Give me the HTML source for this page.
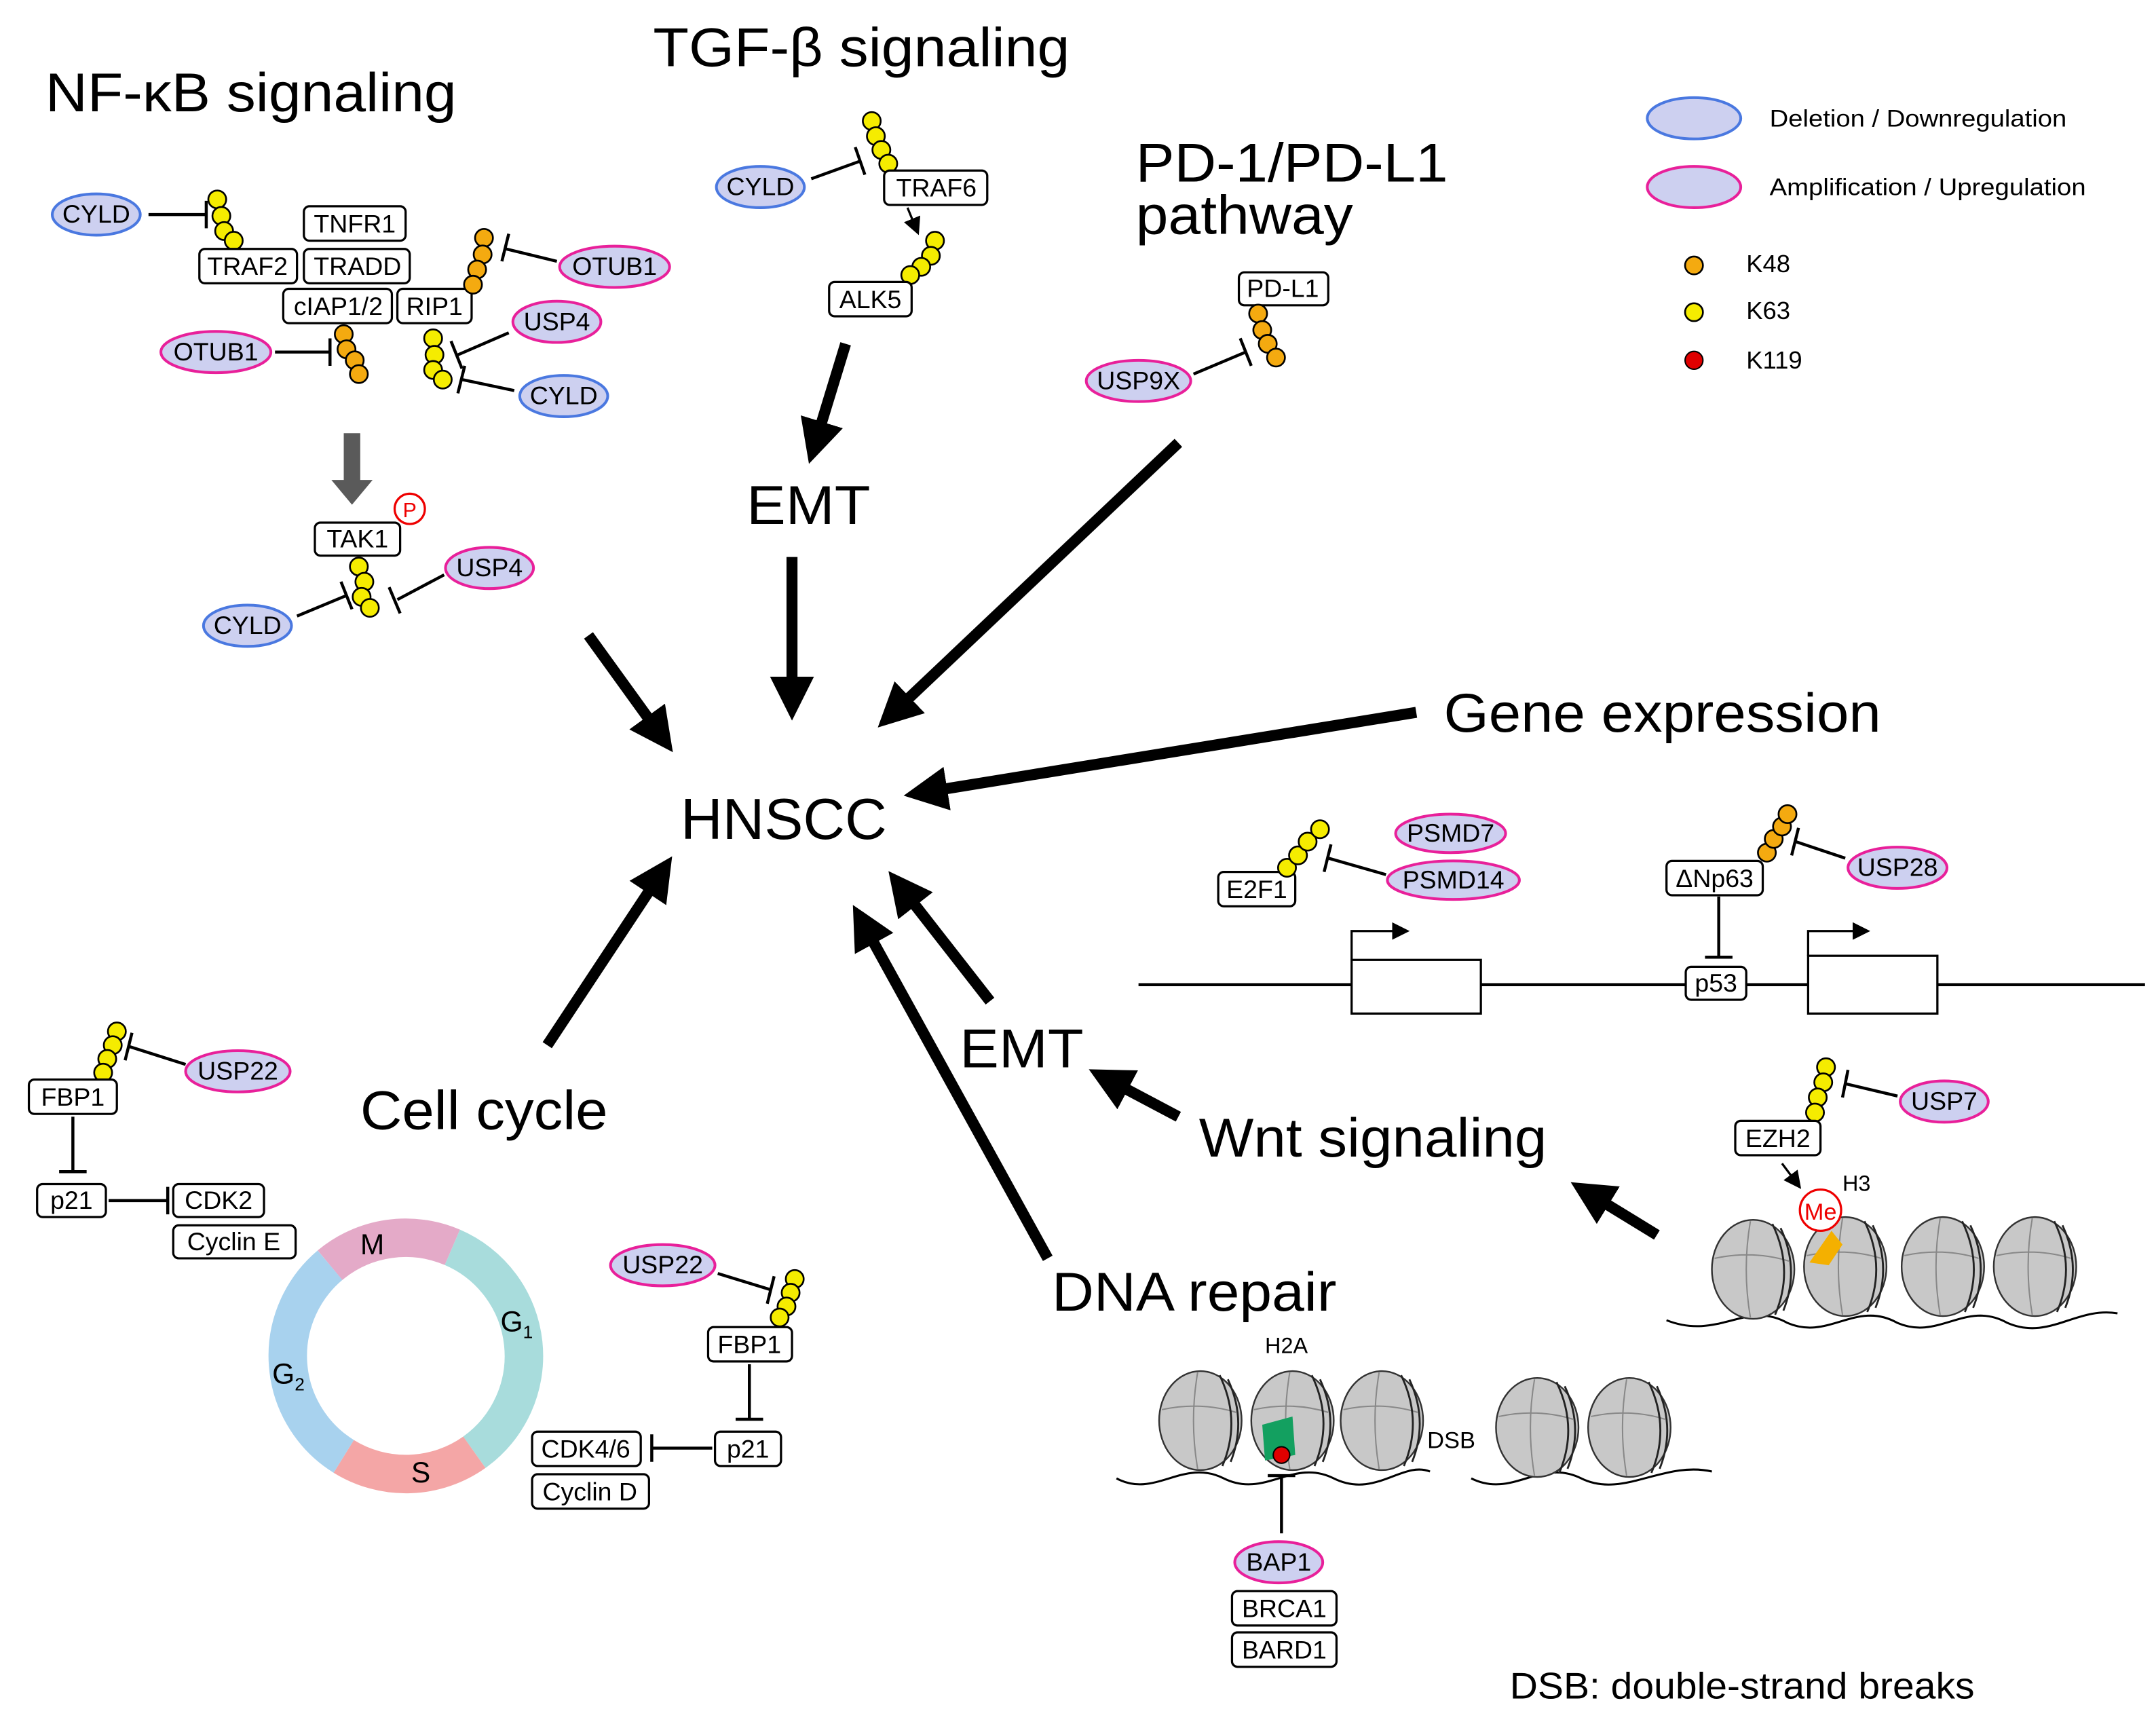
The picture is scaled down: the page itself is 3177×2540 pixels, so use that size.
<!DOCTYPE html>
<html><head><meta charset="utf-8"><style>html,body{margin:0;padding:0;background:#fff}svg{display:block}</style></head>
<body>
<svg width="3177" height="2540" viewBox="0 0 1568 1253.6" xmlns="http://www.w3.org/2000/svg" font-family="Liberation Sans, sans-serif">
<defs>
<marker id="ah" markerWidth="4" markerHeight="4" refX="2" refY="2" orient="auto" markerUnits="strokeWidth"><path d="M0,0 L4,2 L0,4 Z" fill="#000"/></marker>
<marker id="sa" markerWidth="8" markerHeight="8" refX="6" refY="4" orient="auto" markerUnits="strokeWidth"><path d="M0,0 L8,4 L0,8 Z" fill="#000"/></marker>
<g id="nuc">
<ellipse cx="0" cy="0" rx="30" ry="36" fill="#c8c8c8" stroke="#333" stroke-width="1.2"/>
<path d="M-28,-8 Q0,-14 26,-6 M-2,-35 Q-8,0 -2,35" stroke="#888" stroke-width="1" fill="none"/>
<path d="M14,-33 Q30,0 16,33 M20,-30 Q34,0 22,30" stroke="#222" stroke-width="1.4" fill="none"/>
</g>
<style>
.b{fill:#fff;stroke:#000;stroke-width:1.6}
.t{font-size:18.5px;text-anchor:middle}
.eb{fill:#cdd0f0;stroke:#4a78e0;stroke-width:2}
.ep{fill:#cdd0f0;stroke:#e8209a;stroke-width:2}
.y{fill:#f5ec00;stroke:#000;stroke-width:1.3}
.o{fill:#f4aa10;stroke:#000;stroke-width:1.3}
.l{stroke:#000;stroke-width:2.2;fill:none}
.A{stroke:#000;stroke-width:8;fill:none;marker-end:url(#ah)}
.T{font-size:40px}
</style>
</defs>

<!-- titles -->
<text x="33" y="81" class="T" textLength="299" lengthAdjust="spacingAndGlyphs">NF-κB signaling</text>
<text x="475" y="48" class="T" textLength="303" lengthAdjust="spacingAndGlyphs">TGF-β signaling</text>
<text x="826" y="132" class="T" textLength="227" lengthAdjust="spacingAndGlyphs">PD-1/PD-L1</text>
<text x="826" y="170" class="T" textLength="158" lengthAdjust="spacingAndGlyphs">pathway</text>
<text x="495" y="610" style="font-size:42px" textLength="150" lengthAdjust="spacingAndGlyphs">HNSCC</text>
<text x="543" y="381" class="T" textLength="90" lengthAdjust="spacingAndGlyphs">EMT</text>
<text x="1050" y="532" class="T" textLength="318" lengthAdjust="spacingAndGlyphs">Gene expression</text>
<text x="262" y="821" class="T" textLength="180" lengthAdjust="spacingAndGlyphs">Cell cycle</text>
<text x="698" y="776" class="T" textLength="90" lengthAdjust="spacingAndGlyphs">EMT</text>
<text x="872" y="841" class="T" textLength="253" lengthAdjust="spacingAndGlyphs">Wnt signaling</text>
<text x="765" y="953" class="T" textLength="207" lengthAdjust="spacingAndGlyphs">DNA repair</text>
<text x="1098" y="1235" style="font-size:27px" textLength="338" lengthAdjust="spacingAndGlyphs">DSB: double-strand breaks</text>

<!-- big arrows -->
<line x1="428" y1="462" x2="480" y2="534" class="A"/>
<line x1="615" y1="250" x2="593" y2="322" class="A"/>
<line x1="576" y1="405" x2="576" y2="508" class="A"/>
<line x1="857" y1="322" x2="650" y2="518" class="A"/>
<line x1="1030" y1="518" x2="673" y2="576" class="A"/>
<line x1="398" y1="760" x2="480" y2="636" class="A"/>
<line x1="720" y1="728" x2="656" y2="646" class="A"/>
<line x1="762" y1="915" x2="628" y2="672" class="A"/>
<line x1="857" y1="812" x2="806" y2="785" class="A"/>
<line x1="1205" y1="898" x2="1156" y2="868" class="A"/>

<!-- legend -->
<ellipse cx="1232" cy="86" rx="34" ry="15" class="eb"/><text x="1287" y="92" style="font-size:17.5px" textLength="216" lengthAdjust="spacingAndGlyphs">Deletion / Downregulation</text>
<ellipse cx="1232" cy="136" rx="34" ry="15" class="ep"/><text x="1287" y="142" style="font-size:17.5px" textLength="230" lengthAdjust="spacingAndGlyphs">Amplification / Upregulation</text>
<circle cx="1232" cy="193" r="6.5" class="o"/><text x="1270" y="198" style="font-size:18px">K48</text>
<circle cx="1232" cy="227" r="6.5" class="y"/><text x="1270" y="232" style="font-size:18px">K63</text>
<circle cx="1232" cy="262" r="6.5" fill="#e00000" stroke="#000" stroke-width="1"/><text x="1270" y="268" style="font-size:18px">K119</text>

<!-- NF-kB -->
<ellipse cx="70" cy="156" rx="32" ry="15" class="eb"/><text x="70" y="162" class="t">CYLD</text>
<path d="M108,156 H150 M150,146 V166" class="l"/>
<circle cx="158" cy="145" r="6.5" class="y"/><circle cx="161" cy="157" r="6.5" class="y"/><circle cx="163" cy="168" r="6.5" class="y"/><circle cx="170" cy="175" r="6.5" class="y"/>
<rect x="221" y="150" width="74" height="25" rx="4" class="b"/><text x="258" y="169" class="t">TNFR1</text>
<rect x="145" y="181" width="71" height="25" rx="4" class="b"/><text x="180" y="200" class="t">TRAF2</text>
<rect x="221" y="181" width="77" height="25" rx="4" class="b"/><text x="260" y="200" class="t">TRADD</text>
<rect x="206" y="210" width="79" height="25" rx="4" class="b"/><text x="246" y="229" class="t">cIAP1/2</text>
<rect x="289" y="210" width="54" height="25" rx="4" class="b"/><text x="316" y="229" class="t">RIP1</text>
<circle cx="352" cy="173" r="6.5" class="o"/><circle cx="351" cy="185" r="6.5" class="o"/><circle cx="347" cy="196" r="6.5" class="o"/><circle cx="344" cy="207" r="6.5" class="o"/>
<ellipse cx="447" cy="194" rx="40" ry="15" class="ep"/><text x="447" y="200" class="t">OTUB1</text>
<path d="M405,190 L368,181 M370,170 L365,190" class="l"/>
<ellipse cx="157" cy="256" rx="40" ry="15" class="ep"/><text x="157" y="262" class="t">OTUB1</text>
<path d="M200,256 H240 M240,246 V266" class="l"/>
<circle cx="250" cy="243" r="6.5" class="o"/><circle cx="252" cy="254" r="6.5" class="o"/><circle cx="258" cy="262" r="6.5" class="o"/><circle cx="261" cy="272" r="6.5" class="o"/>
<circle cx="315" cy="246" r="6.5" class="y"/><circle cx="316" cy="258" r="6.5" class="y"/><circle cx="315" cy="269" r="6.5" class="y"/><circle cx="322" cy="276" r="6.5" class="y"/>
<ellipse cx="405" cy="234" rx="32" ry="15" class="ep"/><text x="405" y="240" class="t">USP4</text>
<path d="M370,242 L333,258 M328,248 L336,268" class="l"/>
<ellipse cx="410" cy="288" rx="32" ry="15" class="eb"/><text x="410" y="294" class="t">CYLD</text>
<path d="M374,284 L336,276 M338,266 L333,286" class="l"/>
<path d="M250,315 H262 V349 H271 L256,367 L241,349 H250 Z" fill="#5a5a5a"/>
<rect x="229" y="380" width="62" height="24" rx="4" class="b"/><text x="260" y="398" class="t">TAK1</text>
<circle cx="298" cy="370" r="11" fill="#fff" stroke="#e00" stroke-width="1.6"/><text x="298" y="376" class="t" fill="#e00" style="font-size:15px">P</text>
<circle cx="261" cy="412" r="6.5" class="y"/><circle cx="265" cy="423" r="6.5" class="y"/><circle cx="263" cy="434" r="6.5" class="y"/><circle cx="269" cy="442" r="6.5" class="y"/>
<ellipse cx="356" cy="413" rx="32" ry="15" class="ep"/><text x="356" y="419" class="t">USP4</text>
<path d="M323,418 L289,436 M283,427 L291,446" class="l"/>
<ellipse cx="180" cy="455" rx="32" ry="15" class="eb"/><text x="180" y="461" class="t">CYLD</text>
<path d="M216,448 L252,433 M248,423 L256,443" class="l"/>

<!-- TGF -->
<ellipse cx="553" cy="136" rx="32" ry="15" class="eb"/><text x="553" y="142" class="t">CYLD</text>
<path d="M590,130 L626,117 M622,107 L629,127" class="l"/>
<circle cx="634" cy="88" r="6.5" class="y"/><circle cx="637" cy="99" r="6.5" class="y"/><circle cx="641" cy="109" r="6.5" class="y"/><circle cx="646" cy="119" r="6.5" class="y"/>
<rect x="643" y="124" width="75" height="25" rx="4" class="b"/><text x="681" y="143" class="t">TRAF6</text>
<line x1="660" y1="151" x2="667" y2="168" class="l" style="stroke-width:1.6" marker-end="url(#sa)"/>
<circle cx="680" cy="175" r="6.5" class="y"/><circle cx="677" cy="186" r="6.5" class="y"/><circle cx="670" cy="194" r="6.5" class="y"/><circle cx="662" cy="200" r="6.5" class="y"/>
<rect x="603" y="205" width="60" height="25" rx="4" class="b"/><text x="633" y="224" class="t">ALK5</text>

<!-- PD-L1 -->
<rect x="901" y="198" width="65" height="24" rx="4" class="b"/><text x="933" y="216" class="t">PD-L1</text>
<circle cx="915" cy="228" r="6.5" class="o"/><circle cx="918" cy="240" r="6.5" class="o"/><circle cx="922" cy="250" r="6.5" class="o"/><circle cx="928" cy="260" r="6.5" class="o"/>
<ellipse cx="828" cy="277" rx="38" ry="15" class="ep"/><text x="828" y="283" class="t">USP9X</text>
<path d="M868,272 L906,256 M902,246 L910,266" class="l"/>

<!-- Gene expression -->
<line x1="828" y1="716" x2="1560" y2="716" class="l"/>
<rect x="983" y="698" width="94" height="39" class="b"/>
<rect x="1315" y="695" width="94" height="42" class="b"/>
<path d="M983,698 V677 H1022" class="l" style="stroke-width:1.6" marker-end="url(#sa)"/>
<path d="M1315,695 V677 H1357" class="l" style="stroke-width:1.6" marker-end="url(#sa)"/>
<rect x="886" y="634" width="56" height="25" rx="4" class="b"/><text x="914" y="653" class="t">E2F1</text>
<circle cx="936" cy="631" r="6.5" class="y"/><circle cx="944" cy="622" r="6.5" class="y"/><circle cx="951" cy="612" r="6.5" class="y"/><circle cx="960" cy="603" r="6.5" class="y"/>
<ellipse cx="1055" cy="606" rx="40" ry="14" class="ep"/><text x="1055" y="612" class="t">PSMD7</text>
<ellipse cx="1057" cy="640" rx="48" ry="14" class="ep"/><text x="1057" y="646" class="t">PSMD14</text>
<path d="M1008,636 L966,624 M968,614 L963,634" class="l"/>
<rect x="1212" y="626" width="70" height="25" rx="4" class="b"/><text x="1247" y="645" class="t">ΔNp63</text>
<circle cx="1285" cy="620" r="6.5" class="o"/><circle cx="1290" cy="610" r="6.5" class="o"/><circle cx="1296" cy="601" r="6.5" class="o"/><circle cx="1300" cy="592" r="6.5" class="o"/>
<ellipse cx="1380" cy="631" rx="36" ry="15" class="ep"/><text x="1380" y="637" class="t">USP28</text>
<path d="M1342,624 L1306,612 M1308,602 L1303,622" class="l"/>
<path d="M1250,652 V696 M1240,696 H1260" class="l"/>
<rect x="1226" y="703" width="44" height="24" rx="4" class="b"/><text x="1248" y="721" class="t">p53</text>

<!-- Wnt / EZH2 -->
<circle cx="1328" cy="776" r="6.5" class="y"/><circle cx="1326" cy="787" r="6.5" class="y"/><circle cx="1322" cy="798" r="6.5" class="y"/><circle cx="1320" cy="809" r="6.5" class="y"/>
<rect x="1262" y="815" width="62" height="25" rx="4" class="b"/><text x="1293" y="834" class="t">EZH2</text>
<ellipse cx="1414" cy="801" rx="32" ry="15" class="ep"/><text x="1414" y="807" class="t">USP7</text>
<path d="M1380,797 L1342,788 M1344,778 L1340,798" class="l"/>
<line x1="1296" y1="846" x2="1308" y2="862" class="l" style="stroke-width:1.6" marker-end="url(#sa)"/>
<text x="1340" y="866" style="font-size:16px">H3</text>
<path d="M1212,960 C1250,975 1270,945 1300,962 C1330,975 1350,945 1380,962 C1410,975 1430,945 1460,962 C1490,975 1510,950 1540,955" class="l" style="stroke-width:1.5"/>
<use href="#nuc" x="1275" y="923"/><use href="#nuc" x="1342" y="921"/><use href="#nuc" x="1413" y="921"/><use href="#nuc" x="1480" y="921"/>
<path d="M1316,918 L1332,895 L1340,905 L1330,920 Z" fill="#f4b000"/>
<circle cx="1324" cy="880" r="15" fill="#fff" stroke="#e00" stroke-width="1.6"/><text x="1324" y="887" class="t" fill="#e00" style="font-size:17px">Me</text>

<!-- DNA repair -->
<path d="M812,1075 C840,1090 860,1060 890,1075 C920,1090 940,1060 970,1075 C1000,1090 1020,1062 1040,1070" class="l" style="stroke-width:1.5"/>
<path d="M1070,1075 C1100,1090 1120,1060 1150,1075 C1180,1090 1210,1062 1245,1070" class="l" style="stroke-width:1.5"/>
<use href="#nuc" x="873" y="1033"/><use href="#nuc" x="940" y="1033"/><use href="#nuc" x="1005" y="1033"/><use href="#nuc" x="1118" y="1038"/><use href="#nuc" x="1185" y="1038"/>
<path d="M918,1036 L940,1030 L942,1058 L920,1062 Z" fill="#13a060"/>
<circle cx="932" cy="1058" r="6" fill="#e00000" stroke="#000" stroke-width="1"/>
<text x="920" y="984" style="font-size:16px">H2A</text>
<text x="1038" y="1053" style="font-size:17px">DSB</text>
<path d="M932,1115 V1073 M922,1073 H942" class="l"/>
<ellipse cx="930" cy="1136" rx="32" ry="15" class="ep"/><text x="930" y="1142" class="t">BAP1</text>
<rect x="896" y="1157" width="76" height="25" rx="4" class="b"/><text x="934" y="1176" class="t">BRCA1</text>
<rect x="896" y="1187" width="76" height="25" rx="4" class="b"/><text x="934" y="1206" class="t">BARD1</text>

<!-- Cell cycle left -->
<circle cx="85" cy="750" r="6.5" class="y"/><circle cx="82" cy="760" r="6.5" class="y"/><circle cx="78" cy="770" r="6.5" class="y"/><circle cx="75" cy="780" r="6.5" class="y"/>
<rect x="21" y="785" width="64" height="25" rx="4" class="b"/><text x="53" y="804" class="t">FBP1</text>
<ellipse cx="173" cy="779" rx="38" ry="15" class="ep"/><text x="173" y="785" class="t">USP22</text>
<path d="M135,774 L94,761 M96,751 L91,771" class="l"/>
<path d="M53,812 V852 M43,852 H63" class="l"/>
<rect x="27" y="861" width="50" height="24" rx="4" class="b"/><text x="52" y="879" class="t">p21</text>
<path d="M79,873 H122 M122,863 V883" class="l"/>
<rect x="126" y="861" width="66" height="24" rx="4" class="b"/><text x="159" y="879" class="t">CDK2</text>
<rect x="126" y="891" width="89" height="24" rx="4" class="b"/><text x="170" y="909" class="t">Cyclin E</text>

<!-- ring -->
<g transform="translate(295,986)" fill="none" stroke-width="28">
<path d="M-55,-66 A86,86 0 0 1 34,-79" stroke="#e4aac8"/>
<path d="M34,-79 A86,86 0 0 1 50,70" stroke="#a8dcdc"/>
<path d="M50,70 A86,86 0 0 1 -45,73" stroke="#f4a6a6"/>
<path d="M-45,73 A86,86 0 0 1 -55,-66" stroke="#a8d2ee"/>
</g>
<text x="262" y="912" style="font-size:21px">M</text>
<text x="364" y="968" style="font-size:21px">G<tspan font-size="13" dy="5">1</tspan></text>
<text x="299" y="1078" style="font-size:21px">S</text>
<text x="198" y="1006" style="font-size:21px">G<tspan font-size="13" dy="5">2</tspan></text>

<!-- Cell cycle right -->
<ellipse cx="482" cy="920" rx="38" ry="15" class="ep"/><text x="482" y="926" class="t">USP22</text>
<path d="M522,926 L561,938 M563,928 L558,948" class="l"/>
<circle cx="578" cy="930" r="6.5" class="y"/><circle cx="575" cy="940" r="6.5" class="y"/><circle cx="572" cy="950" r="6.5" class="y"/><circle cx="567" cy="958" r="6.5" class="y"/>
<rect x="515" y="965" width="61" height="25" rx="4" class="b"/><text x="545" y="984" class="t">FBP1</text>
<path d="M545,992 V1032 M535,1032 H555" class="l"/>
<rect x="520" y="1041" width="48" height="25" rx="4" class="b"/><text x="544" y="1060" class="t">p21</text>
<path d="M518,1053 H474 M474,1043 V1063" class="l"/>
<rect x="387" y="1041" width="79" height="25" rx="4" class="b"/><text x="426" y="1060" class="t">CDK4/6</text>
<rect x="387" y="1072" width="85" height="25" rx="4" class="b"/><text x="429" y="1091" class="t">Cyclin D</text>
</svg>
</body></html>
